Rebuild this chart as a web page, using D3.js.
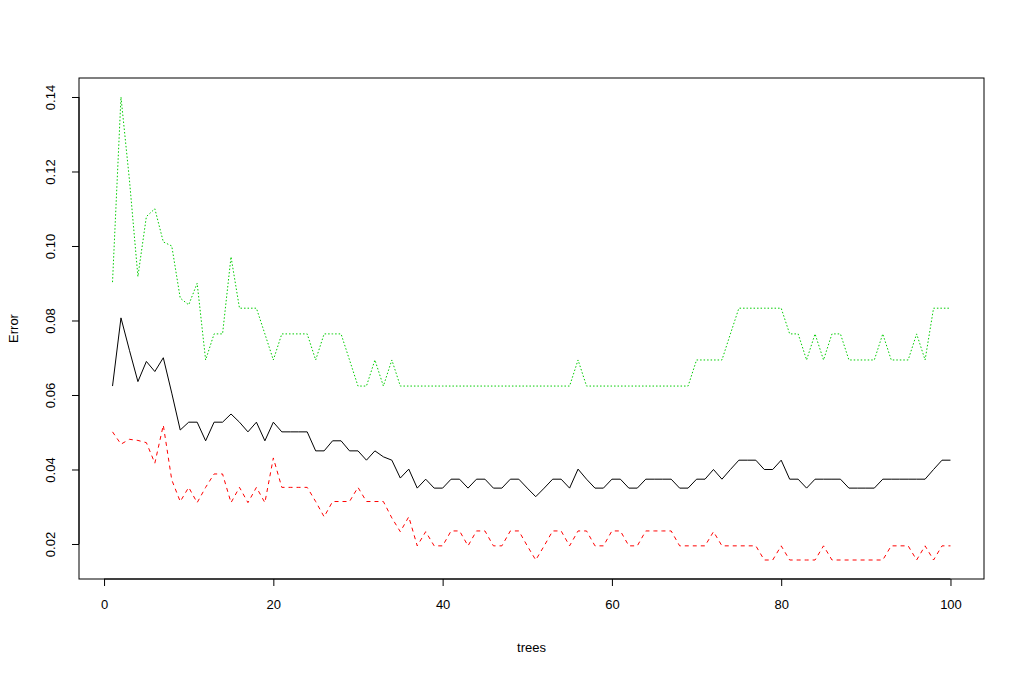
<!DOCTYPE html>
<html><head><meta charset="utf-8">
<script src="https://cdn.jsdelivr.net/npm/d3@7"></script>
<style>body{margin:0;background:#fff}svg{display:block}text{font-family:"Liberation Sans",Arial,sans-serif;font-size:13px;fill:#000}</style>
</head><body><svg id="c" width="1024" height="677"></svg>
<script>
const trees = d3.range(1, 101);
const oob = [0.0624,0.0807,0.072,0.0636,0.069,0.0663,0.070,0.0605,0.0506,0.0527,
0.0527,0.0477,0.0527,0.0527,0.0549,0.0527,0.0501,0.0527,0.0477,0.0527,
0.0501,0.0501,0.0501,0.0501,0.045,0.045,0.0477,0.0477,0.045,0.045,
0.0425,0.045,0.0434,0.0425,0.0377,0.0401,0.035,0.0374,0.035,0.035,
0.0374,0.0374,0.035,0.0374,0.0374,0.035,0.035,0.0374,0.0374,0.035,
0.0327,0.035,0.0374,0.0374,0.035,0.0401,0.0374,0.035,0.035,0.0374,
0.0374,0.035,0.035,0.0374,0.0374,0.0374,0.0374,0.035,0.035,0.0374,
0.0374,0.040,0.0374,0.040,0.0425,0.0425,0.0425,0.040,0.040,0.0425,
0.0374,0.0374,0.035,0.0374,0.0374,0.0374,0.0374,0.035,0.035,0.035,
0.035,0.0374,0.0374,0.0374,0.0374,0.0374,0.0374,0.040,0.0425,0.0425];
const class1 = [0.0501,0.0468,0.0481,0.0478,0.0472,0.0417,0.0519,0.0372,0.0314,0.0352,
0.0311,0.0352,0.0388,0.0388,0.0311,0.0352,0.0311,0.0352,0.0311,0.0431,
0.0352,0.0352,0.0352,0.0352,0.0314,0.0273,0.0314,0.0314,0.0314,0.0352,
0.0314,0.0314,0.0314,0.027,0.0233,0.0273,0.0195,0.0233,0.0195,0.0195,
0.0235,0.0235,0.0195,0.0235,0.0235,0.0195,0.0195,0.0235,0.0235,0.0195,
0.0157,0.0195,0.0235,0.0235,0.0195,0.0235,0.0235,0.0195,0.0195,0.0235,
0.0235,0.0195,0.0195,0.0235,0.0235,0.0235,0.0235,0.0195,0.0195,0.0195,
0.0195,0.0233,0.0195,0.0195,0.0195,0.0195,0.0195,0.0157,0.0157,0.0195,
0.0157,0.0157,0.0157,0.0157,0.0195,0.0157,0.0157,0.0157,0.0157,0.0157,
0.0157,0.0157,0.0195,0.0195,0.0195,0.0157,0.0195,0.0157,0.0195,0.0195];
const class2 = [0.0903,0.140,0.1177,0.0918,0.1079,0.110,0.1011,0.100,0.086,0.0842,
0.090,0.0694,0.0764,0.0764,0.0971,0.0833,0.0833,0.0833,0.0764,0.0694,
0.0764,0.0764,0.0764,0.0764,0.0694,0.0764,0.0764,0.0764,0.0694,0.0624,
0.0624,0.0694,0.0624,0.0694,0.0624,0.0624,0.0624,0.0624,0.0624,0.0624,
0.0624,0.0624,0.0624,0.0624,0.0624,0.0624,0.0624,0.0624,0.0624,0.0624,
0.0624,0.0624,0.0624,0.0624,0.0624,0.0694,0.0624,0.0624,0.0624,0.0624,
0.0624,0.0624,0.0624,0.0624,0.0624,0.0624,0.0624,0.0624,0.0624,0.0694,
0.0694,0.0694,0.0694,0.0764,0.0833,0.0833,0.0833,0.0833,0.0833,0.0833,
0.0764,0.0764,0.0694,0.0764,0.0694,0.0764,0.0764,0.0694,0.0694,0.0694,
0.0694,0.0764,0.0694,0.0694,0.0694,0.0764,0.0694,0.0833,0.0833,0.0833];
const xTicks = [0,20,40,60,80,100];
const yTicks = [0.02,0.04,0.06,0.08,0.10,0.12,0.14];

const L=79,R=984,T=78,B=579;
const svg=d3.select("#c");
const x=d3.scaleLinear().domain([-2.96,103.96]).range([L,R]);
const y=d3.scaleLinear().domain([0.0106,0.1451]).range([B,T]);
const series=[{v:oob,c:"#000",d:null},{v:class1,c:"#FF0000",d:"4,4"},{v:class2,c:"#00CD00",d:"1.5,2"}];
series.forEach(s=>{
  svg.append("path").datum(trees).attr("fill","none").attr("stroke",s.c).attr("stroke-width",1)
    .attr("stroke-dasharray",s.d)
    .attr("d",d3.line().x(t=>x(t)).y((t,i)=>y(s.v[i])));
});
svg.append("rect").attr("x",L).attr("y",T).attr("width",R-L).attr("height",B-T).attr("fill","none").attr("stroke","#000");
const xa=svg.append("g").attr("transform",`translate(0,${B})`).call(d3.axisBottom(x).tickValues(xTicks).tickSize(7).tickPadding(14).tickFormat(d3.format("d")));
const ya=svg.append("g").attr("transform",`translate(${L},0)`).call(d3.axisLeft(y).tickValues(yTicks).tickSize(7).tickFormat(d3.format(".2f")));
[xa,ya].forEach(a=>{a.select(".domain").attr("d",null).remove();a.selectAll("text").style("font-size","13px").style("font-family","Liberation Sans, Arial, sans-serif");});
xa.append("line").attr("x1",x(0)).attr("x2",x(100)).attr("stroke","#000");
ya.append("line").attr("y1",y(0.02)).attr("y2",y(0.14)).attr("stroke","#000");
ya.selectAll(".tick text").attr("x",0).attr("dy",0).attr("text-anchor","middle").attr("transform","translate(-24,0) rotate(-90)");
svg.append("text").attr("x",(L+R)/2).attr("y",652).attr("text-anchor","middle").text("trees");
svg.append("text").attr("transform",`translate(18,${(T+B)/2}) rotate(-90)`).attr("text-anchor","middle").text("Error");
</script></body></html>
